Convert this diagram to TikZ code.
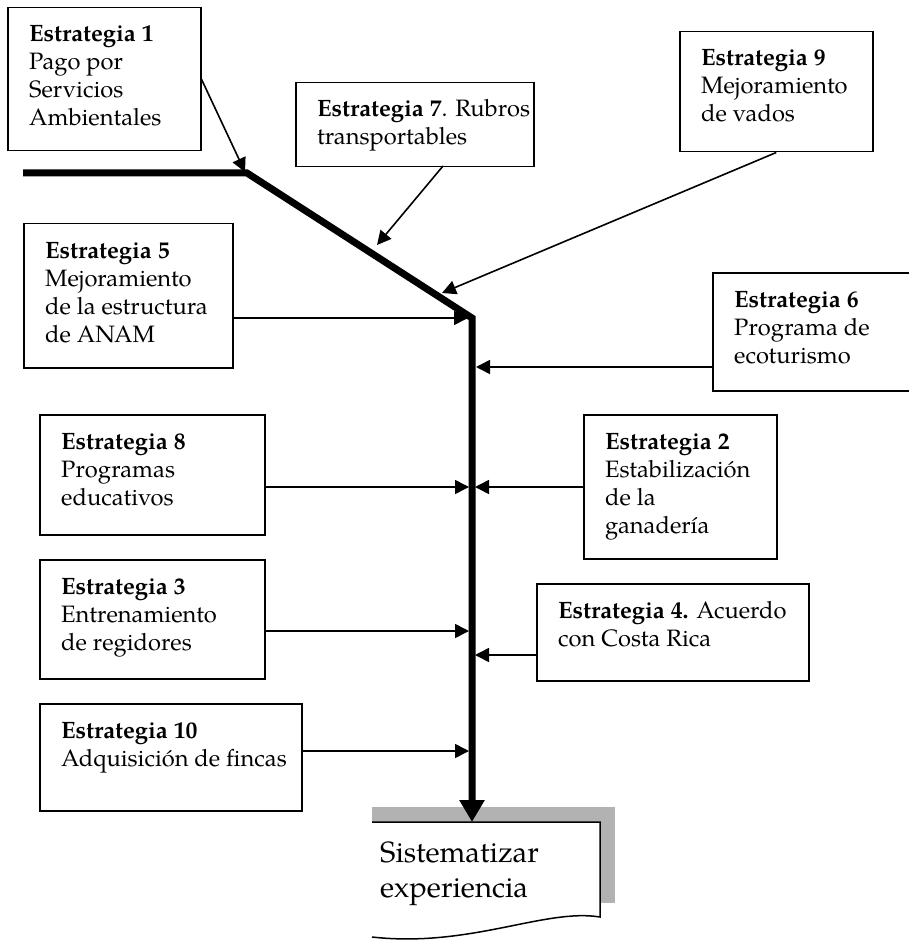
\documentclass[tikz,border=0pt]{standalone}
\usepackage{fontspec}
\setmainfont{TeX Gyre Pagella}
\usetikzlibrary{arrows.meta,calc}
\tikzset{
  box/.style={draw, line width=1.5pt, rectangle, inner sep=0pt, anchor=north west, fill=white},
  txt/.style={anchor=base west, inner sep=0pt, align=left, font=\fontsize{23.7}{28}\selectfont},
  conn/.style={line width=1.6pt, -{Triangle[length=14pt,width=14pt]}},
  spine/.style={line width=7pt, line join=miter},
}
\begin{document}
\begin{tikzpicture}[x=1pt,y=-1pt]
\useasboundingbox (0,0) rectangle (908,941);
% boxes
\node[box, minimum width=193pt, minimum height=143pt] (s1) at (7,7) {};
\node[box, minimum width=238pt, minimum height=84pt] (s7) at (295,82) {};
\node[box, minimum width=193pt, minimum height=120pt] (s9) at (679,31) {};
\node[box, minimum width=209pt, minimum height=144pt] (s5) at (23,223) {};
\node[box, minimum width=220pt, minimum height=118pt] (s6) at (712,272) {};
\node[box, minimum width=225pt, minimum height=120pt] (s8) at (39,414) {};
\node[box, minimum width=193pt, minimum height=144pt] (s2) at (583,414) {};
\node[box, minimum width=225pt, minimum height=119pt] (s3) at (39,559) {};
\node[box, minimum width=272pt, minimum height=97pt] (s4) at (536,583) {};
\node[box, minimum width=262pt, minimum height=107pt] (s10) at (39,703) {};
% texts (anchor = baseline of last line)
\node[txt] (t1) at ($(s1.north west)+(22,119)$) {\textbf{Estrategia 1}\\Pago por\\Servicios\\Ambientales};
\node[txt] (t7) at ($(s7.north west)+(22,63)$) {\textbf{Estrategia 7}. Rubros\\transportables};
\node[txt] (t9) at ($(s9.north west)+(22,91)$) {\textbf{Estrategia 9}\\Mejoramiento\\de vados};
\node[txt] (t5) at ($(s5.north west)+(22,119)$) {\textbf{Estrategia 5}\\Mejoramiento\\de la estructura\\de ANAM};
\node[txt] (t6) at ($(s6.north west)+(22,91)$) {\textbf{Estrategia 6}\\Programa de\\ecoturismo};
\node[txt] (t8) at ($(s8.north west)+(22,91)$) {\textbf{Estrategia 8}\\Programas\\educativos};
\node[txt] (t2) at ($(s2.north west)+(22,119)$) {\textbf{Estrategia 2}\\Estabilización\\de la\\ganadería};
\node[txt] (t3) at ($(s3.north west)+(22,91)$) {\textbf{Estrategia 3}\\Entrenamiento\\de regidores};
\node[txt] (t4) at ($(s4.north west)+(22,63)$) {\textbf{Estrategia 4.} Acuerdo\\con Costa Rica};
\node[txt] (t10) at ($(s10.north west)+(22,63)$) {\textbf{Estrategia 10}\\Adquisición de fincas};
% spine coordinates
\coordinate (sp0) at (23,173);
\coordinate (sp1) at (247,173);
\coordinate (sp2) at (472,318);
\coordinate (doctop) at (472,822);
\coordinate (j1) at (245,172);
\coordinate (j7) at (377,245);
\coordinate (j9) at (442,293);
\coordinate (j5) at (468,318);
\coordinate (j6) at (476,367);
\coordinate (j8) at (469,487);
\coordinate (j2) at (475,487);
\coordinate (j3) at (469,631);
\coordinate (j4) at (475,655);
\coordinate (j10) at (469,751);
% document shape with shadow
\fill[gray!60] (372,807) rectangle (615,903);
\draw[line width=1.5pt, fill=white] (372,822) -- (600,822) -- (600,917)
  .. controls (545,908) and (470,948) .. (372,937);
\node[anchor=base west, inner sep=0pt, align=left, font=\fontsize{29.3}{35}\selectfont] (doc) at (380,897) {Sistematizar\\experiencia};
% spine
\draw[spine, -{Triangle[length=22pt,width=24pt]}] (sp0) -- (sp1) -- (sp2) -- (doctop);
% connectors
\draw[conn] (s1.east) -- (j1);
\draw[conn] (443,166) -- (j7);
\draw[conn] (s9.south) -- (j9);
\draw[conn] (s5.east |- j5) -- (j5);
\draw[conn] (s6.west |- j6) -- (j6);
\draw[conn] (s8.east |- j8) -- (j8);
\draw[conn] (s2.west |- j2) -- (j2);
\draw[conn] (s3.east |- j3) -- (j3);
\draw[conn] (s4.west |- j4) -- (j4);
\draw[conn] (s10.east |- j10) -- (j10);
\end{tikzpicture}
\end{document}
